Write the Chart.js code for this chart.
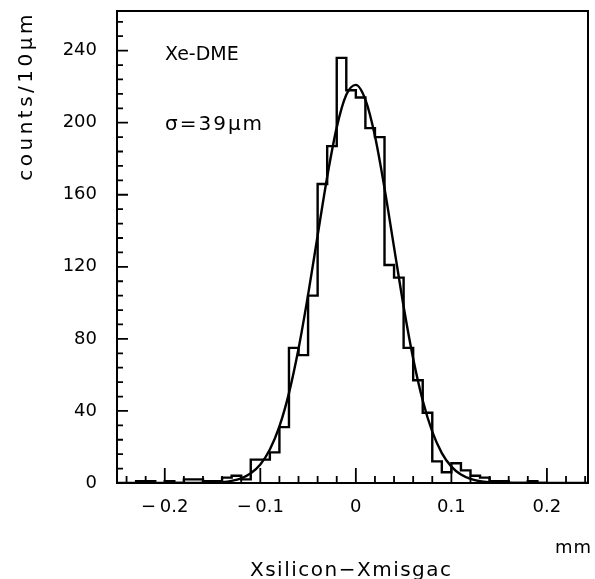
<!DOCTYPE html>
<html>
<head>
<meta charset="utf-8">
<script src="https://cdn.jsdelivr.net/npm/chart.js@4/dist/chart.umd.min.js"></script>
<style>
  html, body { margin: 0; padding: 0; background: #fff; }
  #wrap { width: 595px; height: 579px; position: relative; }
</style>
</head>
<body>
<div id="wrap"><canvas id="chart"></canvas></div>
<script>
// histogram: 10 um bins from -0.25 mm
const binStart = -0.25;
const binWidth = 0.01;
const counts = [
  0, 0, 1, 1, 0, 1, 0, 2, 2, 1,
  1, 3, 4, 2, 13, 13, 17, 31, 75, 71,
  104, 166, 187, 236, 218, 214, 197, 192, 121, 114,
  75, 57, 39, 12, 6, 11, 7, 4, 3, 1,
  1, 0, 0, 1, 0, 0, 0, 0, 0, 0
];

// gaussian fit curve, read every 0.01 mm from -0.2
const fitStart = -0.2;
const fitStep = 0.01;
const fitValues = [
  0, 0, 0, 0, 0.1, 0.2, 0.5, 1.2, 2.6, 5.4,
  10.3, 18.6, 31.4, 49.9, 74.5, 104.4, 137.4, 169.9, 197.4, 215.5,
  221, 212.8, 192.6, 163.7, 130.8, 98, 69.1, 45.8, 28.5, 16.6,
  9.1, 4.7, 2.3, 1.0, 0.45, 0.2, 0.1, 0, 0, 0, 0
];

const xTicks = [-0.2, -0.1, 0, 0.1, 0.2];
const yTicks = [0, 40, 80, 120, 160, 200, 240];

const FONT = "'DejaVu Sans', sans-serif";

const histPoints = counts.map((c, i) => ({ x: binStart + i * binWidth, y: c }));
histPoints.push({ x: binStart + counts.length * binWidth, y: counts[counts.length - 1] });
const fitPoints = fitValues.map((v, i) => ({ x: fitStart + i * fitStep, y: v }));

const fmtX = (v) => {
  if (Math.abs(v) < 1e-9) return "0";
  return (v < 0 ? "\u2212\u2009" : "") + Math.abs(v).toFixed(1);
};

const framePlugin = {
  id: "frame",
  afterDatasetsDraw(chart) {
    const { ctx, chartArea: a, scales } = chart;
    const xs = scales.x, ys = scales.y;
    ctx.save();
    ctx.strokeStyle = "#000";
    ctx.lineWidth = 2;
    ctx.strokeRect(a.left, a.top, a.right - a.left, a.bottom - a.top);

    // inward ticks on x axis, every 0.02
    ctx.lineWidth = 1.8;
    ctx.beginPath();
    for (let k = -12; k <= 12; k++) {
      const px = xs.getPixelForValue(k * 0.02);
      const len = k % 5 === 0 ? 15 : 7;
      ctx.moveTo(px, a.bottom);
      ctx.lineTo(px, a.bottom - len);
    }
    // inward ticks on y axis, every 8
    for (let k = 0; k * 8 <= 256; k++) {
      const py = ys.getPixelForValue(k * 8);
      const len = k % 5 === 0 ? 11 : 6;
      ctx.moveTo(a.left, py);
      ctx.lineTo(a.left + len, py);
    }
    ctx.stroke();

    ctx.fillStyle = "#000";
    ctx.textBaseline = "alphabetic";
    ctx.textAlign = "left";
    ctx.font = "19px " + FONT;
    ctx.letterSpacing = "0px";
    ctx.fillText("Xe-DME", 165, 60);
    ctx.font = "20px " + FONT;
    ctx.letterSpacing = "2px";
    ctx.fillText("\u03c3=39\u00b5m", 165, 130);

    ctx.letterSpacing = "1.5px";
    ctx.fillText("Xsilicon\u2212Xmisgac", 250, 576);
    ctx.font = "18px " + FONT;
    ctx.textAlign = "right";
    ctx.letterSpacing = "1px";
    ctx.fillText("mm", 592, 553);

    ctx.font = "20px " + FONT;
    ctx.translate(32, 11);
    ctx.rotate(-Math.PI / 2);
    ctx.textAlign = "right";
    ctx.letterSpacing = "3.5px";
    ctx.fillText("counts/10\u00b5m", 0, 0);
    ctx.restore();
  }
};

new Chart(document.getElementById("chart"), {
  type: "line",
  data: {
    datasets: [
      {
        label: "histogram",
        data: histPoints,
        stepped: true,
        borderColor: "#000",
        borderWidth: 2.4,
        pointRadius: 0,
        fill: false
      },
      {
        label: "fit",
        data: fitPoints,
        cubicInterpolationMode: "monotone",
        borderColor: "#000",
        borderWidth: 2.4,
        pointRadius: 0,
        fill: false
      }
    ]
  },
  options: {
    responsive: true,
    maintainAspectRatio: false,
    animation: false,
    layout: { padding: { top: 11, right: 7, left: 0, bottom: 0 } },
    plugins: { legend: { display: false }, tooltip: { enabled: false } },
    scales: {
      x: {
        type: "linear",
        min: -0.25,
        max: 0.243,
        grid: { display: false, drawTicks: false },
        border: { display: false },
        afterBuildTicks: (s) => { s.ticks = xTicks.map((v) => ({ value: v })); },
        afterFit: (s) => { s.height = 96; s.paddingLeft = 0; s.paddingRight = 0; },
        ticks: {
          autoSkip: false,
          maxRotation: 0,
          padding: 14,
          color: "#000",
          font: { family: FONT, size: 18 },
          callback: (v) => fmtX(v)
        }
      },
      y: {
        type: "linear",
        min: 0,
        max: 262,
        grid: { display: false, drawTicks: false },
        border: { display: false },
        afterBuildTicks: (s) => { s.ticks = yTicks.map((v) => ({ value: v })); },
        afterFit: (s) => { s.width = 117; s.paddingTop = 0; s.paddingBottom = 0; },
        ticks: {
          autoSkip: false,
          padding: 20,
          color: "#000",
          font: { family: FONT, size: 18 },
          callback: (v) => String(v)
        }
      }
    }
  },
  plugins: [framePlugin]
});
</script>
</body>
</html>
